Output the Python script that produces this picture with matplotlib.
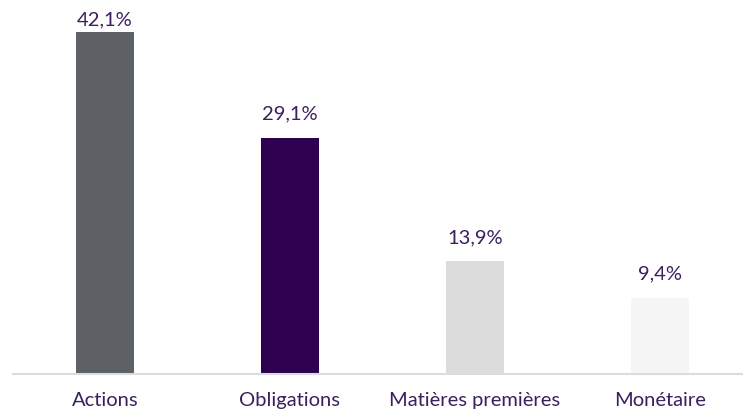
import matplotlib.pyplot as plt

categories = ["Actions", "Obligations", "Matières premières", "Monétaire"]
values = [42.1, 29.1, 13.9, 9.4]
labels = ["42,1%", "29,1%", "13,9%", "9,4%"]
colors = ["#5d6064", "#2e0050", "#dcdcdc", "#f5f5f5"]
text_color = "#3b1f5e"

plt.rcParams["font.family"] = ["Lato", "DejaVu Sans"]

W, H = 743, 416
PX_PER_UNIT = 8.12
fig = plt.figure(figsize=(W / 100, H / 100), dpi=100)
# axes placed in pixels: baseline at y=374, categories spaced 185px
ax = fig.add_axes([12.5 / W, (H - 374) / H, 740 / W, 374 / H])

x = range(len(categories))
ax.bar(x, values, width=0.314, color=colors, zorder=2)
ax.set_xlim(-0.5, 3.5)
ax.set_ylim(0, 374 / PX_PER_UNIT)

for i, (v, lab) in enumerate(zip(values, labels)):
    free_px = 374 - v * PX_PER_UNIT
    off = min(15, free_px - 28)  # tallest label is pushed down to stay inside
    ax.annotate(lab, (i, v), xytext=(0, off * 0.72), textcoords="offset points",
                ha="center", va="bottom", fontsize=14.5, color=text_color)

for s in ["top", "right", "left"]:
    ax.spines[s].set_visible(False)
ax.spines["bottom"].set_color("#d9dde0")
ax.spines["bottom"].set_linewidth(1.5)
ax.set_yticks([])
ax.set_xticks(list(x))
ax.set_xticklabels(categories, fontsize=14.5, color=text_color)
ax.tick_params(axis="x", length=0, pad=13)

fig.savefig("out.png", dpi=100)
